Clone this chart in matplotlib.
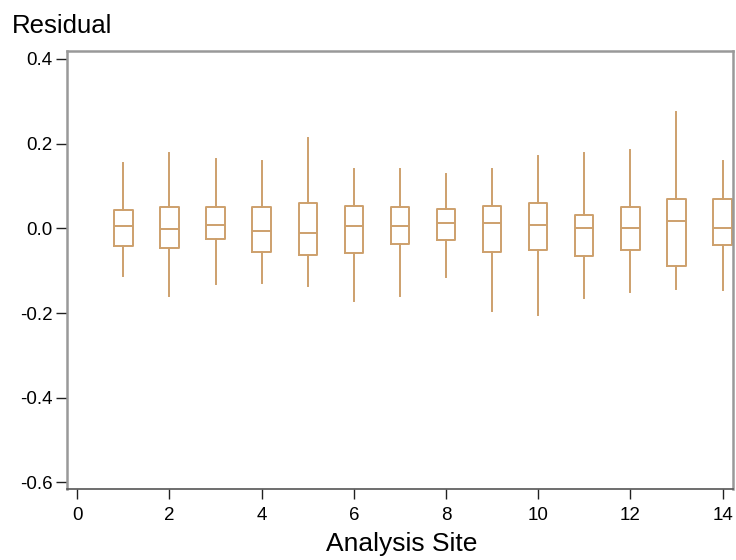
import matplotlib
matplotlib.use('Agg')
import matplotlib.pyplot as plt

# residual summary per analysis site
sites = [1, 2, 3, 4, 5, 6, 7, 8, 9, 10, 11, 12, 13, 14]
whislo = [-0.112, -0.160, -0.132, -0.128, -0.135, -0.172, -0.160,
          -0.115, -0.195, -0.205, -0.165, -0.150, -0.143, -0.146]
q1 = [-0.041, -0.047, -0.025, -0.055, -0.063, -0.059, -0.036,
      -0.028, -0.055, -0.052, -0.066, -0.052, -0.088, -0.040]
med = [0.005, -0.002, 0.009, -0.006, -0.010, 0.005, 0.005,
       0.013, 0.013, 0.009, 0.001, 0.001, 0.017, 0.001]
q3 = [0.043, 0.050, 0.050, 0.050, 0.061, 0.053, 0.050,
      0.046, 0.053, 0.061, 0.031, 0.050, 0.069, 0.069]
whishi = [0.155, 0.177, 0.164, 0.160, 0.213, 0.140, 0.140,
          0.128, 0.140, 0.171, 0.179, 0.186, 0.275, 0.160]

xticks = [0, 2, 4, 6, 8, 10, 12, 14]
yticks = [-0.6, -0.4, -0.2, 0.0, 0.2, 0.4]

box_col = '#CDA06C'
font = ['Liberation Sans', 'DejaVu Sans']

stats = []
for i in range(len(sites)):
    stats.append(dict(whislo=whislo[i], q1=q1[i], med=med[i],
                      q3=q3[i], whishi=whishi[i], fliers=[]))

fig = plt.figure(figsize=(7.36, 5.6), dpi=100)
ax = fig.add_axes([0.0906, 0.1263, 0.9049, 0.7835])

lp = dict(color=box_col, linewidth=1.4)
ax.bxp(stats, positions=sites, widths=0.40, showcaps=False,
       boxprops=lp, whiskerprops=lp, medianprops=lp)

ax.set_xlim(-0.23, 14.22)
ax.set_ylim(-0.616, 0.420)
ax.set_xticks(xticks)
ax.set_xticklabels([str(t) for t in xticks])
ax.set_yticks(yticks)
ax.set_yticklabels(['%.1f' % t for t in yticks])

for lab in ax.get_xticklabels() + ax.get_yticklabels():
    lab.set_family(font)
    lab.set_fontsize(13.5)
ax.tick_params(axis='y', length=8, width=1, color='#202020', pad=2)
ax.tick_params(axis='x', length=7, width=1, color='#202020', pad=6)

for side in ['left', 'top', 'right']:
    ax.spines[side].set_color('#999999')
    ax.spines[side].set_linewidth(1.8)
ax.spines['bottom'].set_color('#555555')
ax.spines['bottom'].set_linewidth(1.2)

fig.text(11.7 / 736, 1 - 32.7 / 560, 'Residual', ha='left', va='baseline',
         family=font, fontsize=18.5)
fig.text(402 / 736, 1 - 551 / 560, 'Analysis Site', ha='center', va='baseline',
         family=font, fontsize=19)

fig.savefig('out.png', dpi=100)
